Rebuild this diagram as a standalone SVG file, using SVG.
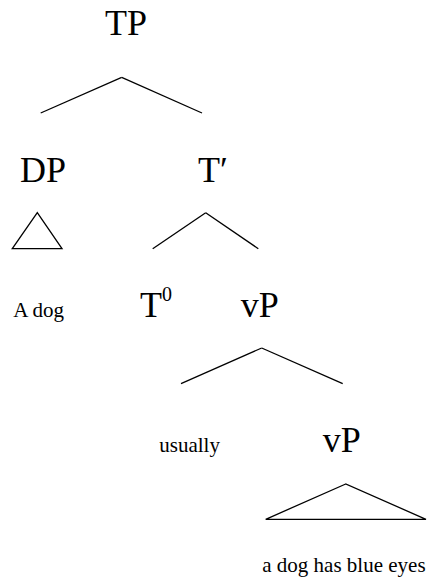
<svg xmlns="http://www.w3.org/2000/svg" width="428" height="581" viewBox="0 0 428 581">
<style>
text{font-family:"Liberation Serif","Times New Roman",serif;fill:#000}
.big{font-size:36px}
.small{font-size:21px}
.sup{font-size:20px}
line,polygon{stroke:#000;stroke-width:1.3;fill:none}
</style>
<rect width="428" height="581" fill="#fff"/>
<g id="TP"><text class="big" x="105" y="35">TP</text></g>
<g id="DP"><text class="big" x="20" y="181.7">DP</text></g>
<g id="Tbar"><text class="big" x="198" y="181.7">T′</text></g>
<g id="A_dog"><text class="small" x="13.3" y="316.7">A dog</text></g>
<g id="T0"><text class="big" x="140" y="316.7">T<tspan class="sup" dy="-16">0</tspan></text></g>
<g id="vP1"><text class="big" x="240.7" y="316.7">vP</text></g>
<g id="usually"><text class="small" x="159.3" y="451.7">usually</text></g>
<g id="vP2"><text class="big" x="322.7" y="451.7">vP</text></g>
<g id="clause"><text class="small" x="262.3" y="571.7">a dog has blue eyes</text></g>
<g id="connectors">
<line x1="121.7" y1="77.3" x2="40.7" y2="113"/>
<line x1="121.7" y1="77.3" x2="202" y2="113"/>
<polygon points="37.3,212.7 12.3,248.7 62,248.7"/>
<line x1="205.7" y1="212.7" x2="152.7" y2="248.7"/>
<line x1="205.7" y1="212.7" x2="258.3" y2="248.7"/>
<line x1="261.7" y1="348" x2="181" y2="383.7"/>
<line x1="261.7" y1="348" x2="342.7" y2="383.7"/>
<polygon points="345.7,484 265.7,519.3 426,519.3"/>
</g>
</svg>
